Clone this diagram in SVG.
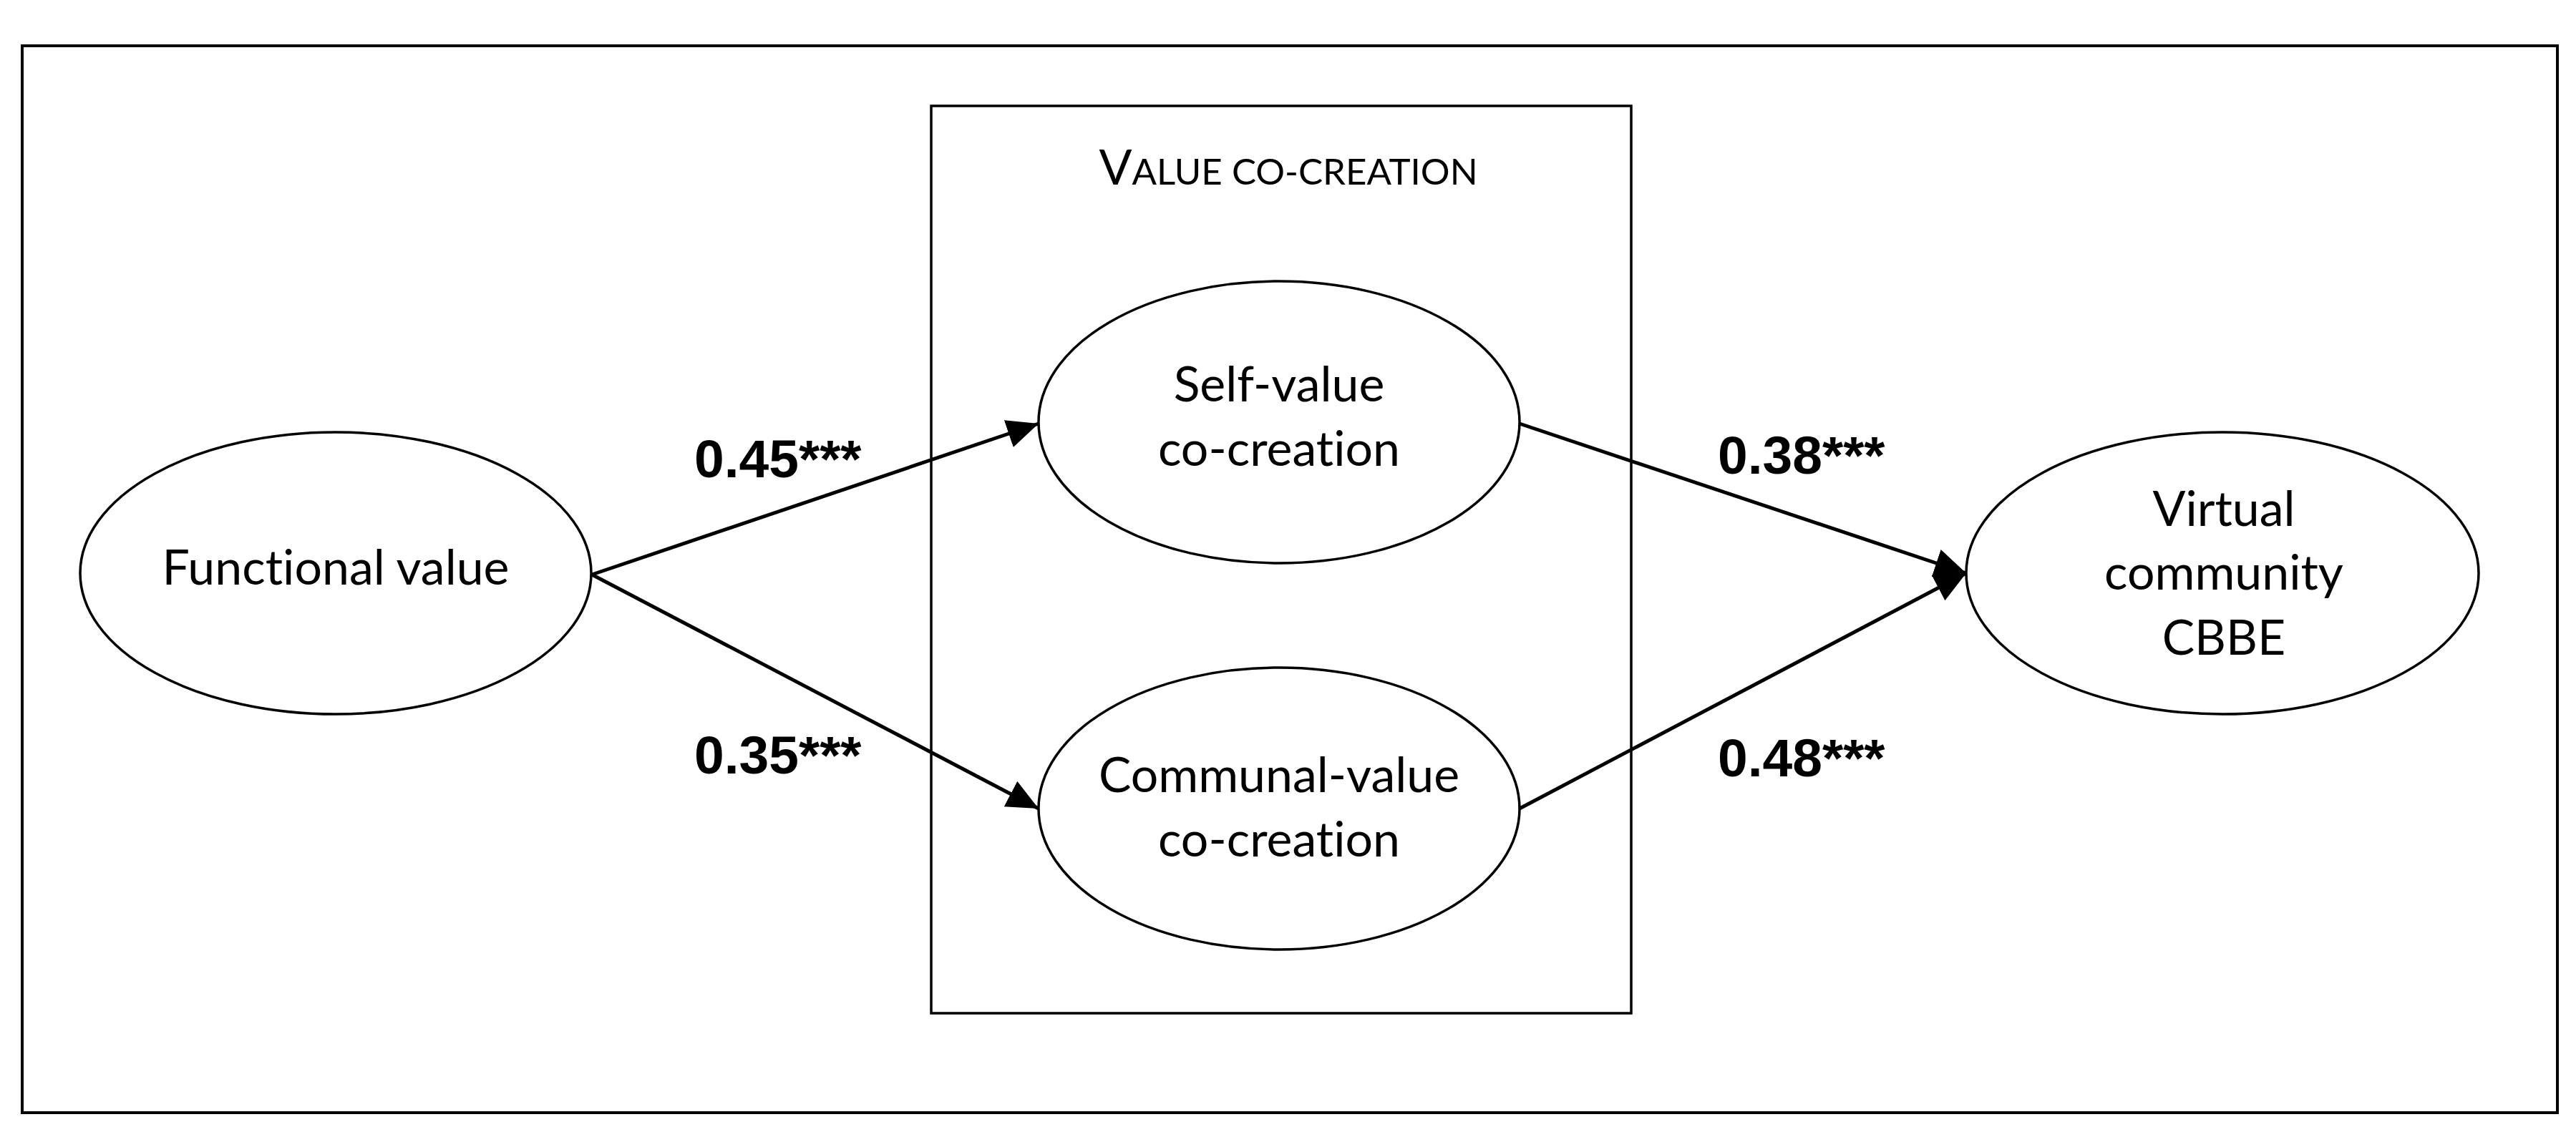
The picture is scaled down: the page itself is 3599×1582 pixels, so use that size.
<svg xmlns="http://www.w3.org/2000/svg" width="3599" height="1582" viewBox="0 0 3599 1582">
<style>
.frame{fill:#fff;stroke:#000;stroke-width:4}
.box{fill:none;stroke:#000;stroke-width:3.5}
.node{fill:#fff;stroke:#000;stroke-width:3.5}
text{font-variant-ligatures:none;font-feature-settings:"liga" 0,"clig" 0}
.lbl{font-family:Lato,"Open Sans",sans-serif;font-size:68px;fill:#000;text-anchor:middle}
.coef{font-family:"Liberation Sans",Arial,sans-serif;font-weight:bold;font-size:75px;fill:#000}
.conn line{stroke:#000;stroke-width:5;marker-end:url(#arr)}
</style>
<defs>
<marker id="arr" markerUnits="userSpaceOnUse" markerWidth="46" markerHeight="42" refX="44" refY="20" orient="auto">
<path d="M0,0 L44,20 L0,40 Z" fill="#000"/>
</marker>
</defs>
<rect x="0" y="0" width="3599" height="1582" fill="#fff"/>
<rect class="frame" x="31" y="64" width="3542" height="1491"/>
<g id="value-co-creation">
<rect class="box" x="1301" y="148" width="978" height="1268"/>
<text x="1800" y="258" font-family="Lato,'Open Sans',sans-serif" font-size="68" text-anchor="middle">V<tspan font-size="51">ALUE CO-CREATION</tspan></text>
</g>
<g class="conn" id="connectors">
<line x1="827" y1="803" x2="1451" y2="592"/>
<line x1="827" y1="803" x2="1451" y2="1130"/>
<line x1="2123" y1="592" x2="2747" y2="801"/>
<line x1="2123" y1="1130" x2="2747" y2="801"/>
</g>
<g id="functional-value">
<ellipse class="node" cx="469" cy="801" rx="357" ry="197"/>
<text class="lbl" x="469" y="817">Functional value</text>
</g>
<g id="self-value">
<ellipse class="node" cx="1787" cy="590" rx="336" ry="197"/>
<text class="lbl" x="1787" y="561">Self-value</text>
<text class="lbl" x="1787" y="651">co-creation</text>
</g>
<g id="communal-value">
<ellipse class="node" cx="1787" cy="1130" rx="336" ry="197"/>
<text class="lbl" x="1787" y="1107">Communal-value</text>
<text class="lbl" x="1787" y="1197">co-creation</text>
</g>
<g id="virtual-cbbe">
<ellipse class="node" cx="3105" cy="801" rx="358" ry="197"/>
<text class="lbl" x="3107" y="735">Virtual</text>
<text class="lbl" x="3107" y="824">community</text>
<text class="lbl" x="3107" y="915">CBBE</text>
</g>
<g id="coefficients">
<text class="coef" x="970" y="667">0.45***</text>
<text class="coef" x="970" y="1081">0.35***</text>
<text class="coef" x="2400" y="662">0.38***</text>
<text class="coef" x="2400" y="1085">0.48***</text>
</g>
</svg>
